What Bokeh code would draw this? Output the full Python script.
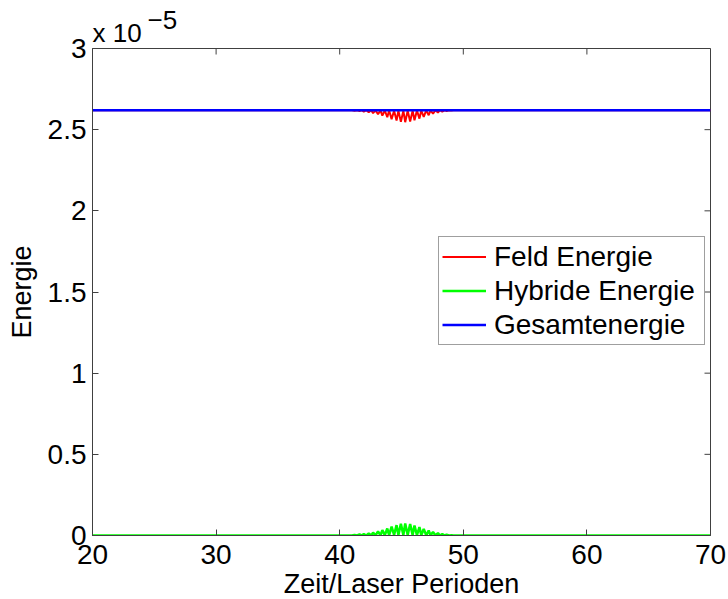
import math
from bokeh.plotting import figure
from bokeh.models import Legend, LegendItem, Title, FixedTicker
from bokeh.embed import file_html
from bokeh.resources import INLINE

# values in units of 1e-5
t = [20.0, 41.0, 41.2, 41.4, 41.6, 41.8, 41.95, 42.15, 42.35, 42.55, 42.7, 42.9,
     43.1, 43.3, 43.45, 43.65, 43.85, 44.0, 44.2, 44.4, 44.6, 44.75, 44.95, 45.15,
     45.3, 45.5, 45.7, 45.9, 46.05, 46.25, 46.45, 46.6, 46.8, 47.0, 47.2, 47.35,
     47.55, 47.75, 47.95, 48.1, 48.3, 48.5, 48.65, 48.85, 49.05, 49.2, 70.0]
feld = [2.62, 2.62, 2.616, 2.62, 2.614, 2.62, 2.611, 2.62, 2.607, 2.62, 2.602, 2.619,
        2.595, 2.619, 2.587, 2.618, 2.577, 2.618, 2.565, 2.617, 2.556, 2.617, 2.548, 2.617,
        2.546, 2.617, 2.550, 2.617, 2.558, 2.618, 2.568, 2.618, 2.579, 2.619, 2.589, 2.619,
        2.598, 2.62, 2.605, 2.62, 2.611, 2.62, 2.615, 2.62, 2.618, 2.62, 2.62]
hybrid = [0.0, 0.0, 0.004, 0.0, 0.006, 0.0, 0.009, 0.0, 0.013, 0.0, 0.018, 0.001,
          0.025, 0.001, 0.033, 0.002, 0.043, 0.002, 0.055, 0.003, 0.064, 0.003, 0.072, 0.003,
          0.074, 0.003, 0.070, 0.003, 0.062, 0.002, 0.052, 0.002, 0.041, 0.001, 0.031, 0.001,
          0.022, 0.0, 0.015, 0.0, 0.009, 0.0, 0.005, 0.0, 0.002, 0.0, 0.0]
gesamt_t = [20.0, 70.0]
gesamt = [2.62, 2.62]

x_ticks = [20, 30, 40, 50, 60, 70]
y_ticks = [0, 0.5, 1, 1.5, 2, 2.5, 3]
y_tick_labels = ["0", "0.5", "1", "1.5", "2", "2.5", "3"]
series_names = ["Feld Energie", "Hybride Energie", "Gesamtenergie"]
series_colors = ["#FF0000", "#00FF00", "#0000FF"]

FONT = "Liberation Sans"
FRAME = "#404040"

p = figure(width=728, height=599, output_backend="svg", toolbar_location=None,
           x_range=(20, 70), y_range=(0, 3), title=None,
           min_border_left=92, min_border_right=18, min_border_top=48, min_border_bottom=64)
p.frame_width = 618
p.frame_height = 487
p.grid.visible = False
p.outline_line_color = FRAME
p.outline_line_width = 1
p.background_fill_color = "white"
p.border_fill_color = "white"

r1 = p.line(t, feld, line_color=series_colors[0], line_width=2)
r2 = p.line(t, hybrid, line_color=series_colors[1], line_width=2.5)
r3 = p.line(gesamt_t, gesamt, line_color=series_colors[2], line_width=2.5)

# mirrored inward ticks on the right and top edges (box on)
p.ray(x=[70] * len(y_ticks), y=y_ticks, length=6, length_units="screen",
      angle=math.pi, line_color=FRAME, line_width=1)
p.ray(x=x_ticks, y=[3] * len(x_ticks), length=6, length_units="screen",
      angle=-math.pi / 2, line_color=FRAME, line_width=1)

for ax in p.xaxis + p.yaxis:
    ax.major_tick_in = 6
    ax.major_tick_out = 0
    ax.minor_tick_line_color = None
    ax.axis_line_color = FRAME
    ax.major_tick_line_color = FRAME
    ax.major_label_text_font = FONT
    ax.major_label_text_font_size = "28px"
    ax.major_label_text_color = "black"
    ax.axis_label_text_font = FONT
    ax.axis_label_text_font_size = "27px"
    ax.axis_label_text_font_style = "normal"
    ax.axis_label_text_color = "black"

p.xaxis.ticker = FixedTicker(ticks=x_ticks)
p.yaxis.ticker = FixedTicker(ticks=y_ticks)
p.yaxis.major_label_overrides = {v: s for v, s in zip(y_ticks, y_tick_labels)}
p.xaxis.axis_label = "Zeit/Laser Perioden"
p.yaxis.axis_label = "Energie"
p.xaxis.major_label_standoff = 9
p.yaxis.major_label_standoff = 6
p.xaxis.axis_label_standoff = 2
p.yaxis.axis_label_standoff = 8

# "x 10^-5" exponent note above the top-left corner
t_base = Title(text="x 10", align="left", offset=0, standoff=1,
               text_font=FONT, text_font_size="26px", text_font_style="normal",
               text_color="black")
t_exp = Title(text="\u22125", align="left", offset=55, standoff=-27,
              text_font=FONT, text_font_size="26px", text_font_style="normal",
              text_color="black", text_line_height=1.35)
p.add_layout(t_base, "above")
p.add_layout(t_exp, "above")

legend = Legend(items=[LegendItem(label=series_names[0], renderers=[r1]),
                       LegendItem(label=series_names[1], renderers=[r2]),
                       LegendItem(label=series_names[2], renderers=[r3])],
                location=(346, 190))
legend.label_text_font = FONT
legend.label_text_font_size = "28px"
legend.label_text_color = "black"
legend.glyph_width = 44
legend.glyph_height = 33
legend.label_height = 33
legend.label_width = 207
legend.label_standoff = 8
legend.spacing = 1
legend.padding = 3
legend.margin = 0
legend.border_line_color = FRAME
legend.border_line_width = 1
legend.background_fill_alpha = 1
p.add_layout(legend, "center")

open("out.html", "w").write(file_html(p, INLINE))
